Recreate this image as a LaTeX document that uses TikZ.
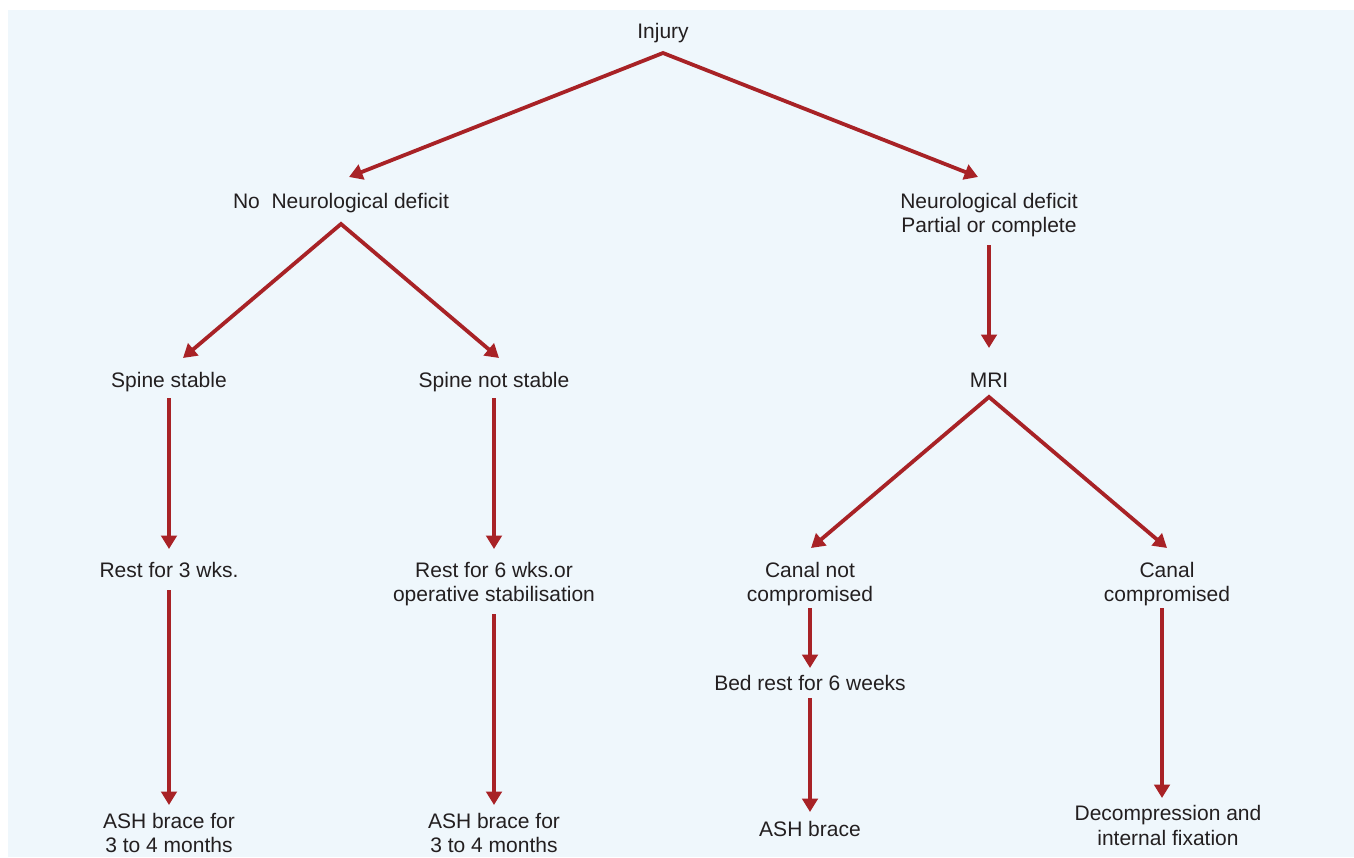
\documentclass[tikz,border=0pt]{standalone}
\usepackage{fontspec}
\setmainfont{Liberation Sans}
\usetikzlibrary{arrows.meta,calc}
\definecolor{bgblue}{RGB}{239,247,252}
\definecolor{arrowred}{RGB}{168,34,38}
\definecolor{txt}{RGB}{35,31,32}
\tikzset{
  lbl/.style={anchor=base, align=center, inner sep=0pt, text=txt, font=\fontsize{21}{24.5}\selectfont},
  conn/.style={draw=arrowred, line width=3.8pt, line join=miter, -{Triangle[width=15.5pt,length=13.5pt]}},
  fork/.style={draw=arrowred, line width=3.8pt, line join=miter, {Triangle[width=15.5pt,length=13.5pt]}-{Triangle[width=15.5pt,length=13.5pt]}}
}
\begin{document}
\begin{tikzpicture}[x=1pt,y=-1pt]
\useasboundingbox (0,0) rectangle (1354,857);
\fill[bgblue] (8,10) rectangle (1354,857);

% single-line nodes: base = baseline; multi-line nodes: base = last line baseline
\node[lbl] (inj) at (663,38) {Injury};
\node[lbl] (nn) at (341,208) {No\ \ Neurological deficit};
\node[lbl] (nd) at (989,232.5) {Neurological deficit\\Partial or complete};
\node[lbl] (ss) at (169,387) {Spine stable};
\node[lbl] (sn) at (494,387) {Spine not stable};
\node[lbl] (mri) at (989,387) {MRI};
\node[lbl] (r3) at (169,577) {Rest for 3 wks.};
\node[lbl] (r6) at (494,601.5) {Rest for 6 wks.or\\operative stabilisation};
\node[lbl] (cn) at (810,601.5) {Canal not\\compromised};
\node[lbl] (cc) at (1167,601.5) {Canal\\compromised};
\node[lbl] (br) at (810,690) {Bed rest for 6 weeks};
\node[lbl] (a1) at (169,852.5) {ASH brace for\\3 to 4 months};
\node[lbl] (a2) at (494,852.5) {ASH brace for\\3 to 4 months};
\node[lbl] (a3) at (810,836) {ASH brace};
\node[lbl] (dc) at (1168,845) {Decompression and\\internal fixation};

% fork apexes
\coordinate (injap) at ($(inj.base)+(0,15)$);
\coordinate (nnap) at ($(nn.base)+(0,16)$);
\coordinate (mriap) at ($(mri.base)+(0,10)$);

\draw[fork] ($(nn.base)+(8,-31)$) -- (injap) -- ($(nd.base)+(-11,-55.5)$);
\draw[fork] ($(ss.base)+(14,-29)$) -- (nnap) -- ($(sn.base)+(5,-29)$);
\draw[fork] ($(cn.base)+(1,-53.5)$) -- (mriap) -- ($(cc.base)+(0,-53.5)$);

\draw[conn] ($(nd.base)+(0,12.5)$) -- ($(mri.base)+(0,-39)$);
\draw[conn] ($(ss.base)+(0,11)$) -- ($(r3.base)+(0,-28)$);
\draw[conn] ($(sn.base)+(0,11)$) -- ($(r6.base)+(0,-52.5)$);
\draw[conn] ($(r3.base)+(0,13)$) -- ($(a1.base)+(0,-47.5)$);
\draw[conn] ($(r6.base)+(0,12.5)$) -- ($(a2.base)+(0,-47.5)$);
\draw[conn] ($(cn.base)+(0,6.5)$) -- ($(br.base)+(0,-22)$);
\draw[conn] ($(br.base)+(0,8)$) -- ($(a3.base)+(0,-24)$);
\draw[conn] ($(cc.base)+(-5,6.5)$) -- ($(dc.base)+(-6,-47)$);
\end{tikzpicture}
\end{document}
